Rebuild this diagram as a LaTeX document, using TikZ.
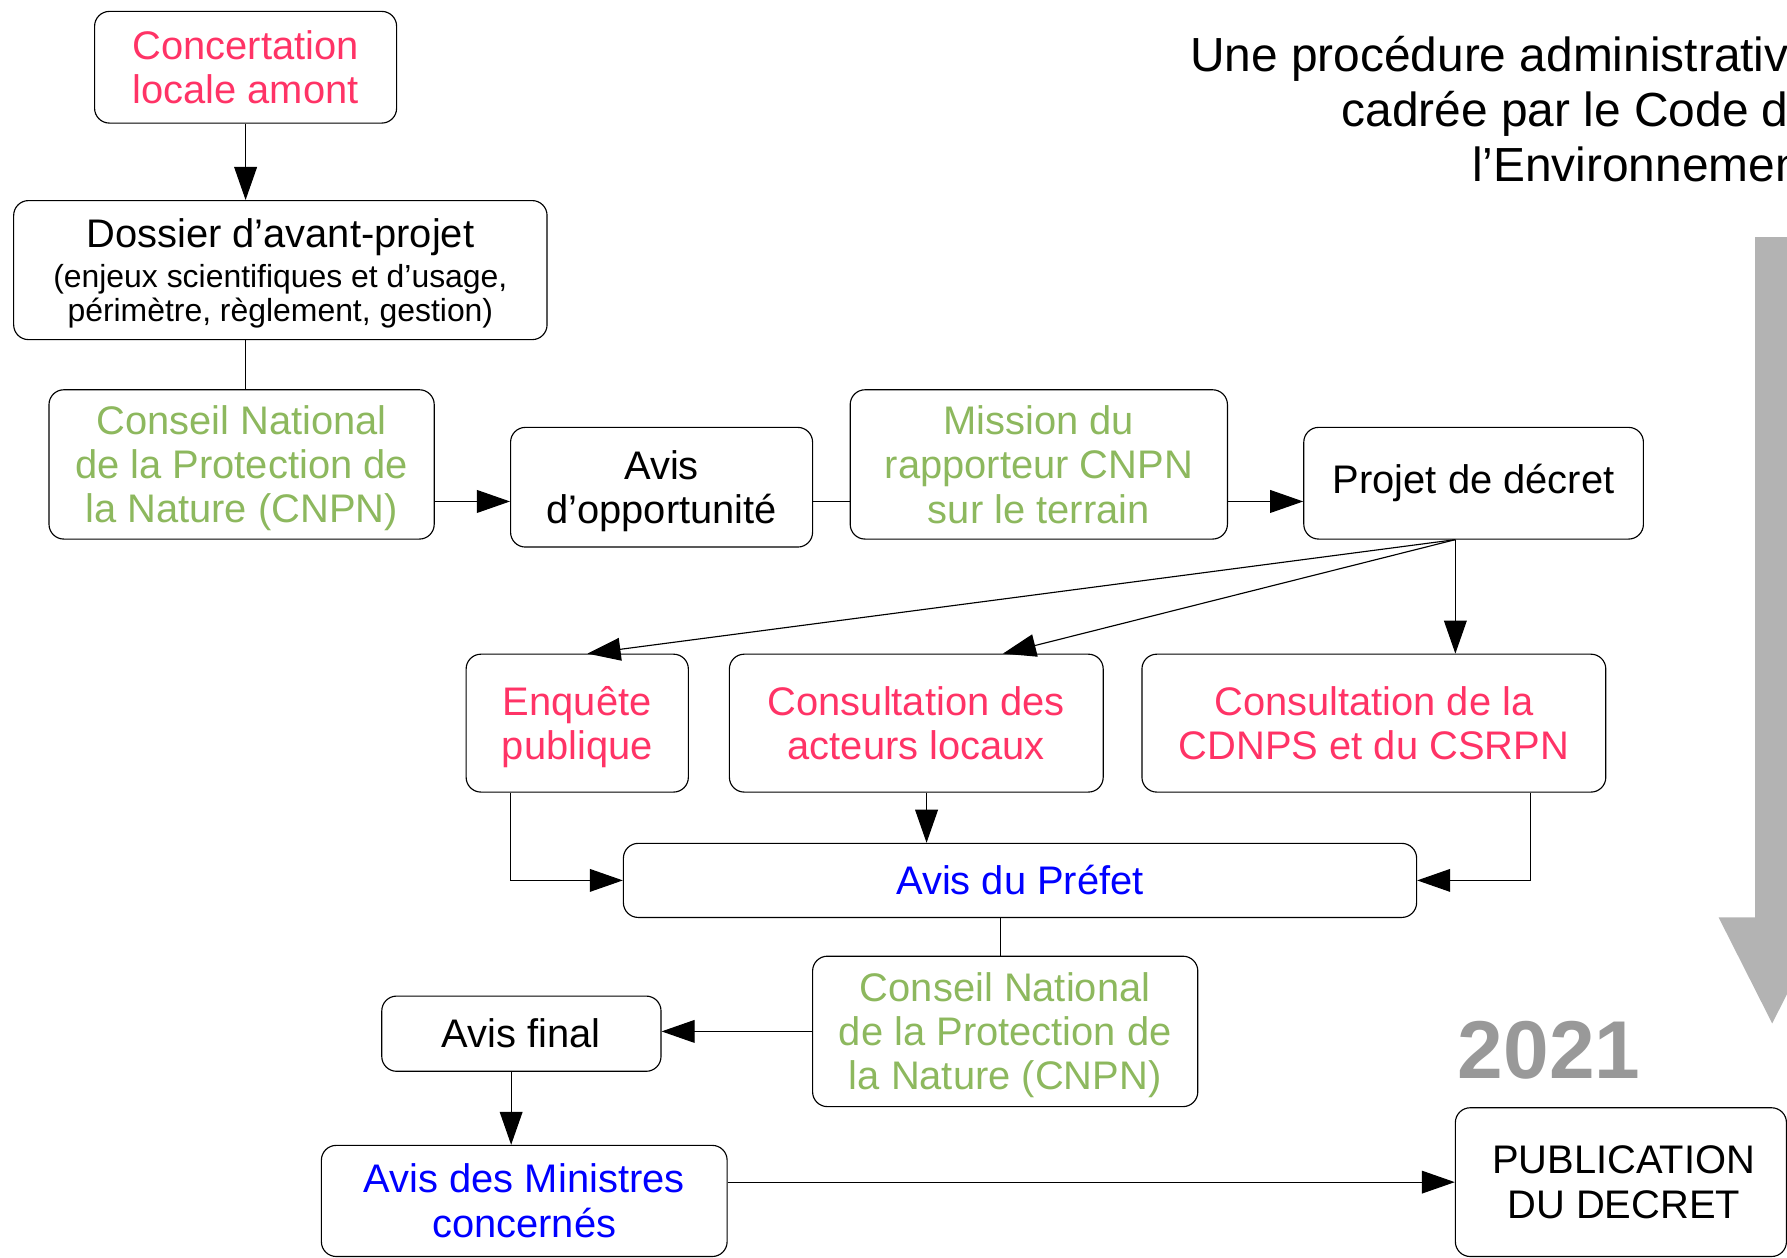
\documentclass[tikz,border=0pt]{standalone}
\usepackage{fontspec}
\setmainfont{Liberation Sans}
\usetikzlibrary{arrows.meta,calc}
\definecolor{pinkred}{HTML}{FF3366}
\definecolor{grn}{HTML}{8DB85E}
\definecolor{blu}{HTML}{0000FF}
\definecolor{arrgray}{HTML}{B3B3B3}
\definecolor{yeargray}{HTML}{999999}
\newcommand\bigf{\fontsize{35}{39}\selectfont}
\newcommand\smallf{\fontsize{28}{30}\selectfont}
\tikzset{
  box/.style={draw, rounded corners=13pt, line width=1pt, align=center, inner sep=0pt, font=\bigf},
  arr/.style={-{Triangle[length=29pt,width=20pt]}, line width=1pt},
  ln/.style={line width=1pt},
  titlef/.style={anchor=base east, inner sep=0pt, font=\fontsize{42}{48}\selectfont}
}
\begin{document}
\begin{tikzpicture}[x=1pt,y=-1pt]
\useasboundingbox (0,0) rectangle (1568,1103);
\clip (0,0) rectangle (1568,1103);

% title
\node[titlef] (t1) at (1593,63) {Une procédure administrative};
\node[titlef] (t2) at (1593,111) {cadrée par le Code de};
\node[titlef] (t3) at (1593,159) {l’Environnement};

% gray time arrow
\fill[arrgray] (1540,208) -- (1570,208) -- (1570,805) -- (1602,805) -- (1555,898) -- (1508,805) -- (1540,805) -- cycle;
\node[anchor=base west, inner sep=0pt, text=yeargray, font=\fontsize{72}{80}\selectfont\bfseries] (year) at (1279,946) {2021};

% boxes
\node[box, minimum width=265pt, minimum height=98pt, text=pinkred] (conc) at (215.5,59) {Concertation\\locale amont};
\node[box, minimum width=468pt, minimum height=122pt] (doss) at (246,237)
  {\rule{0pt}{31pt}Dossier d’avant-projet\\[-4pt] \smallf (enjeux scientifiques et d’usage,\\[-9pt] \smallf périmètre, règlement, gestion)};
\node[box, minimum width=338pt, minimum height=131pt, text=grn] (cnpn1) at (212,407.5) {\rule{0pt}{32pt}Conseil National\\de la Protection de\\la Nature (CNPN)};
\node[box, minimum width=265pt, minimum height=105pt] (avisopp) at (580.5,427.5) {\rule{0pt}{32pt}Avis\\d’opportunité};
\node[box, minimum width=331pt, minimum height=131pt, text=grn] (mission) at (911.5,407.5) {Mission du\\rapporteur CNPN\\sur le terrain};
\node[box, minimum width=298pt, minimum height=98pt] (projet) at (1293,424) {Projet de décret};
\node[box, minimum width=195pt, minimum height=121pt, text=pinkred] (enq) at (506.5,634.5) {\rule{0pt}{32pt}Enquête\\publique};
\node[box, minimum width=328pt, minimum height=121pt, text=pinkred] (cact) at (804,634.5) {Consultation des\\acteurs locaux};
\node[box, minimum width=407pt, minimum height=121pt, text=pinkred] (cdnps) at (1205.5,634.5) {Consultation de la\\CDNPS et du CSRPN};
\node[box, minimum width=696pt, minimum height=65pt, text=blu] (prefet) at (895,772.5) {Avis du Préfet};
\node[box, minimum width=338pt, minimum height=132pt, text=grn] (cnpn2) at (882,905) {\rule{0pt}{32pt}Conseil National\\de la Protection de\\la Nature (CNPN)};
\node[box, minimum width=245pt, minimum height=66pt] (avisfinal) at (457.5,907) {Avis final};
\node[box, minimum width=356pt, minimum height=97.5pt, text=blu] (ministres) at (460,1053.75) {Avis des Ministres\\concernés};
\node[box, minimum width=290.5pt, minimum height=130.5pt] (pub) at (1422.25,1037.25) {\hspace*{5pt}PUBLICATION\\\hspace*{5pt}DU DECRET};

% connectors
\draw[arr] (conc.south) -- (conc.south |- doss.north);
\draw[ln] (conc.south |- doss.south) -- (conc.south |- cnpn1.north);
\coordinate (r1) at (0,440);
\draw[arr] (cnpn1.east |- r1) -- (avisopp.west |- r1);
\draw[ln] (avisopp.east |- r1) -- (mission.west |- r1);
\draw[arr] (mission.east |- r1) -- (projet.west |- r1);
\coordinate (pj) at ($(projet.south)+(-16,0)$);
\draw[arr] (pj) -- ([xshift=9pt]enq.north);
\draw[arr] (pj) -- ([xshift=76pt]cact.north);
\draw[arr] (pj) -- (pj |- cdnps.north);
\draw[arr] ([xshift=-58.5pt]enq.south) |- (prefet.west);
\draw[arr] ([xshift=9pt]cact.south) -- ([xshift=9pt]cact.south |- prefet.north);
\draw[arr] ([xshift=137.5pt]cdnps.south) |- (prefet.east);
\draw[ln] ([xshift=-4pt]cnpn2.north |- prefet.south) -- ([xshift=-4pt]cnpn2.north);
\draw[arr] (cnpn2.west) -- (cnpn2.west -| avisfinal.east);
\draw[arr] ([xshift=-9pt]avisfinal.south) -- ([xshift=-9pt]avisfinal.south |- ministres.north);
\draw[arr] (ministres.east |- pub.west) -- (pub.west);
\end{tikzpicture}
\end{document}
